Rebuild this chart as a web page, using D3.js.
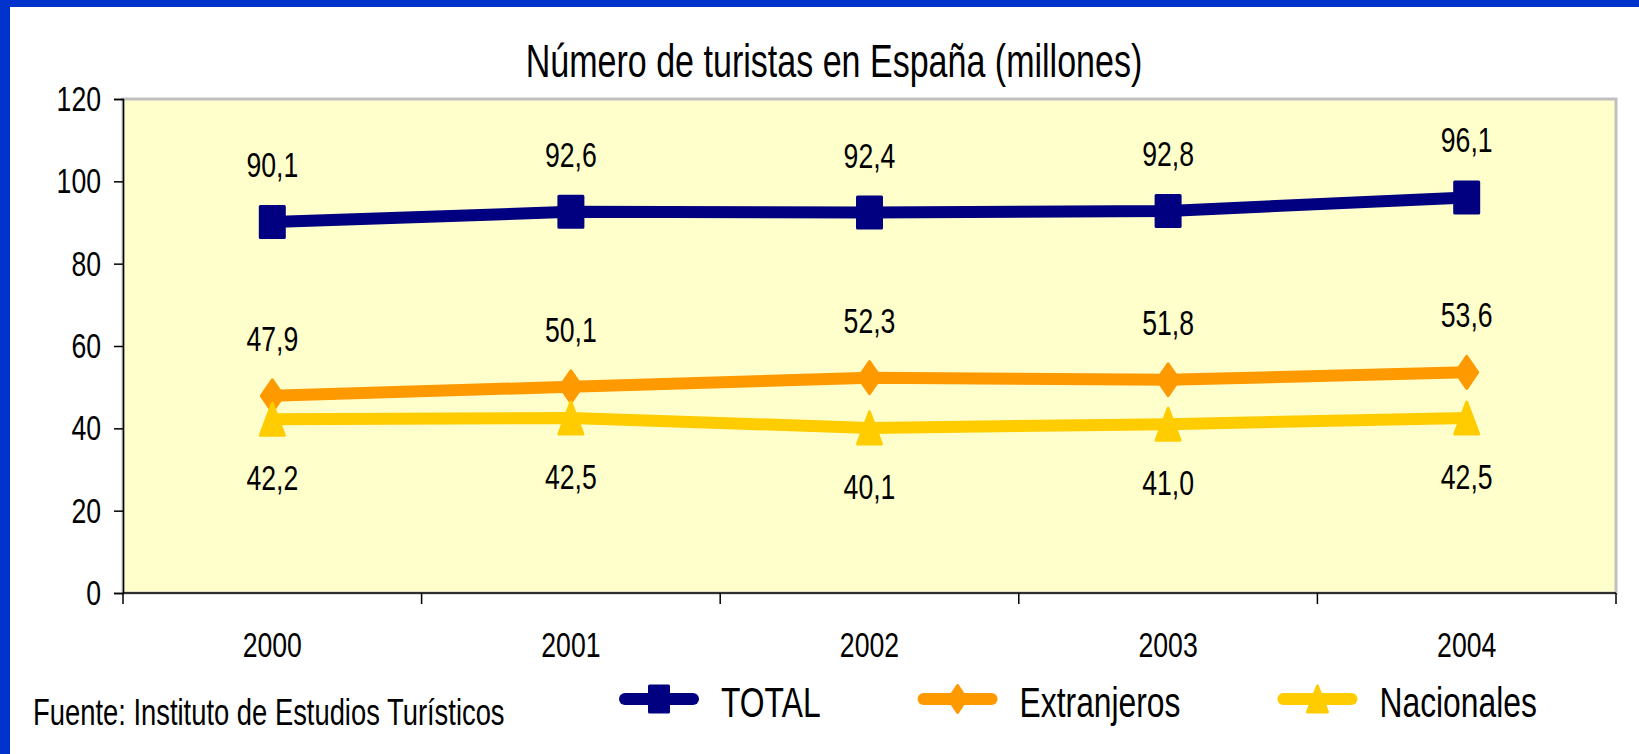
<!DOCTYPE html>
<html lang="es">
<head>
    <meta charset="UTF-8">
    <script src="https://d3js.org/d3.v7.min.js" charset="utf-8"></script>
    <title>Turistas</title>
    <style>
        body { margin: 0; background: white; }
        svg { display: block; font-family: "Liberation Sans", Arial, sans-serif; }
    </style>
</head>
<body>
<div id="chart"></div>
<script>
    // data
    const years = ["2000", "2001", "2002", "2003", "2004"];
    const total = [90.1, 92.6, 92.4, 92.8, 96.1];
    const extranjeros = [47.9, 50.1, 52.3, 51.8, 53.6];
    const nacionales = [42.2, 42.5, 40.1, 41.0, 42.5];
    const yTicks = [0, 20, 40, 60, 80, 100, 120];
    const seriesNames = ["TOTAL", "Extranjeros", "Nacionales"];
    const titleText = "Número de turistas en España (millones)";
    const sourceText = "Fuente: Instituto de Estudios Turísticos";

    const width = 1639, height = 754;
    const sx = 0.74; // the original text is squeezed horizontally
    const plot = {left: 123, right: 1616, top: 99, bottom: 593};

    const series = [
        {name: seriesNames[0], values: total, color: "#000080", shape: "square", above: true},
        {name: seriesNames[1], values: extranjeros, color: "#FF9900", shape: "diamond", above: true},
        {name: seriesNames[2], values: nacionales, color: "#FFCC00", shape: "triangle", above: false}
    ];

    const svg = d3.select("#chart").append("svg")
        .attr("width", width)
        .attr("height", height);

    // blue frame, top and left only
    svg.append("rect").attr("x", 0).attr("y", 0).attr("width", width).attr("height", 7).attr("fill", "#0033CC");
    svg.append("rect").attr("x", 0).attr("y", 0).attr("width", 10).attr("height", height).attr("fill", "#0033CC");

    const x = d3.scaleBand().domain(years).range([plot.left, plot.right]).padding(0);
    const y = d3.scaleLinear().domain([0, 120]).range([plot.bottom, plot.top]);
    const cx = d => x(d) + x.bandwidth() / 2;

    // squeezed text helper
    const label = (sel, tx, ty, txt, size, anchor) => sel.append("text")
        .attr("transform", `translate(${tx},${ty}) scale(${sx},1)`)
        .attr("text-anchor", anchor || "middle")
        .attr("font-size", size)
        .attr("fill", "black")
        .text(txt);

    label(svg, 834, 77, titleText, 46);

    // plot area
    svg.append("rect")
        .attr("x", plot.left).attr("y", plot.top)
        .attr("width", plot.right - plot.left).attr("height", plot.bottom - plot.top)
        .attr("fill", "#FFFFCC")
        .attr("stroke", "#C0C0C0")
        .attr("stroke-width", 3);

    // y axis
    const yAxis = svg.append("g")
        .attr("transform", `translate(${plot.left},0)`)
        .call(d3.axisLeft(y).tickValues(yTicks).tickSize(9).tickPadding(13).tickFormat(d3.format("d")));
    yAxis.select(".domain").attr("stroke", "black").attr("stroke-width", 1.5);
    yAxis.selectAll(".tick line").attr("stroke", "black").attr("stroke-width", 1.5);
    yAxis.selectAll(".tick text")
        .attr("font-family", null)
        .attr("font-size", 36)
        .attr("fill", "black")
        .attr("x", -22 / sx)
        .attr("transform", `scale(${sx},1)`);

    // x axis: labels at centres, ticks between categories
    const xAxis = svg.append("g")
        .attr("transform", `translate(0,${plot.bottom})`)
        .call(d3.axisBottom(x).tickSize(0).tickPadding(38));
    xAxis.select(".domain").remove();
    xAxis.selectAll(".tick text")
        .attr("font-family", null)
        .attr("font-size", 36)
        .attr("fill", "black")
        .attr("transform", `scale(${sx},1)`);
    xAxis.append("line")
        .attr("x1", plot.left).attr("x2", plot.right)
        .attr("stroke", "black").attr("stroke-width", 1.5);
    const bounds = years.map(d => x(d)).concat([x(years[years.length - 1]) + x.bandwidth()]);
    xAxis.selectAll(".sep").data(bounds).enter().append("line")
        .attr("class", "sep")
        .attr("x1", d => d).attr("x2", d => d)
        .attr("y1", 0).attr("y2", 11)
        .attr("stroke", "black").attr("stroke-width", 1.5);

    // marker shapes, w x h box centred on 0,0
    const shapePath = (shape, w, h) => {
        if (shape === "square") {
            return `M${-w / 2},${-h / 2}H${w / 2}V${h / 2}H${-w / 2}Z`;
        } else if (shape === "diamond") {
            return `M0,${-h / 2}L${w / 2},0L0,${h / 2}L${-w / 2},0Z`;
        }
        return `M0,${-h / 2}L${w / 2},${h / 2}L${-w / 2},${h / 2}Z`;
    };
    const markerSize = {square: [24, 31], diamond: [22, 32], triangle: [24, 32]};
    const legendSize = {square: [19, 26], diamond: [18, 27], triangle: [20, 26]};

    const line = d3.line().x((d, i) => cx(years[i])).y(d => y(d));

    series.forEach(s => {
        svg.append("path")
            .datum(s.values)
            .attr("d", line)
            .attr("fill", "none")
            .attr("stroke", s.color)
            .attr("stroke-width", 12);

        svg.selectAll(null).data(s.values).enter().append("path")
            .attr("transform", (d, i) => `translate(${cx(years[i])},${y(d)})`)
            .attr("d", shapePath(s.shape, markerSize[s.shape][0], markerSize[s.shape][1]))
            .attr("fill", s.color)
            .attr("stroke", s.color)
            .attr("stroke-width", 3)
            .attr("stroke-linejoin", "round");
    });

    // data labels
    const fmt = d => d.toFixed(1).replace(".", ",");
    series.forEach(s => {
        s.values.forEach((v, i) => {
            label(svg, cx(years[i]), y(v) + (s.above ? -45 : 71), fmt(v), 36);
        });
    });

    // source note
    label(svg, 33, 725, sourceText, 37, "start");

    // legend
    let lx = 619;
    const ly = 699;
    series.forEach(s => {
        const g = svg.append("g");
        g.append("line")
            .attr("x1", lx + 6).attr("x2", lx + 74)
            .attr("y1", ly).attr("y2", ly)
            .attr("stroke", s.color).attr("stroke-width", 12)
            .attr("stroke-linecap", "round");
        g.append("path")
            .attr("transform", `translate(${lx + 40},${ly})`)
            .attr("d", shapePath(s.shape, legendSize[s.shape][0], legendSize[s.shape][1]))
            .attr("fill", s.color)
            .attr("stroke", s.color)
            .attr("stroke-width", 3)
            .attr("stroke-linejoin", "round");
        const t = label(g, lx + 102, ly + 18, s.name, 43, "start");
        lx += 102 + t.node().getComputedTextLength() * sx + 97;
    });
</script>
</body>
</html>
